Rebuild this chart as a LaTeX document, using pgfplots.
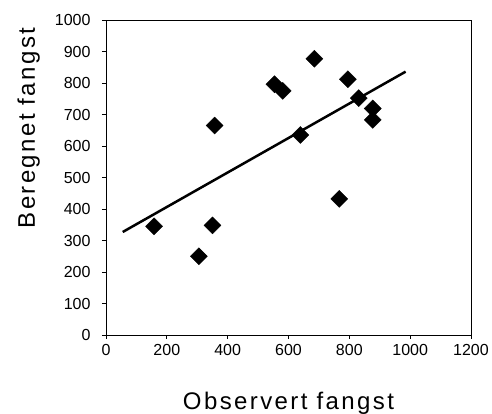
\documentclass[border=0pt]{standalone}
\usepackage{fontspec}
\setmainfont{Liberation Sans}
\usepackage{pgfplots}
\pgfplotsset{compat=1.18}
\begin{document}
\begin{tikzpicture}
\useasboundingbox (-106pt,-79pt) rectangle (386pt,335pt);
\begin{axis}[
  at={(0pt,0pt)}, anchor=south west,
  scale only axis, width=365pt, height=315pt,
  xmin=0, xmax=1200, ymin=0, ymax=1000,
  xtick={0,200,...,1200}, ytick={0,100,...,1000},
  tick align=outside, xtick pos=left, ytick pos=left,
  major tick length=4pt,
  axis line style={line width=0.8pt},
  every tick/.style={black, line width=0.8pt},
  /pgf/number format/assume math mode=true,
  /pgf/number format/1000 sep={},
  ticklabel style={font=\fontsize{16}{19}\selectfont},
  yticklabel style={xshift=-8pt},
  xticklabel style={yshift=-2pt},
  xlabel={Observert fangst}, ylabel={Beregnet fangst},
  every axis x label/.style={at={(axis description cs:0.5,-0.238)}, anchor=base, font=\addfontfeature{LetterSpace=10}\fontsize{24}{28}\selectfont},
  every axis y label/.style={at={(axis description cs:-0.195,0.657)}, anchor=base, rotate=90, font=\addfontfeature{LetterSpace=10}\fontsize{24}{28}\selectfont},
]
\addplot[black, line width=2.5pt] coordinates {(55,327) (985,836)};
\addplot[only marks, mark=square*, mark size=6pt, mark options={rotate=45, fill=black, draw=black}] coordinates {
(158,345) (350,348) (305,250) (767,432) (685,877) (554,796) (581,775)
(795,812) (831,752) (877,719) (877,683) (357,665) (639,635)
};
\end{axis}
\end{tikzpicture}
\end{document}
